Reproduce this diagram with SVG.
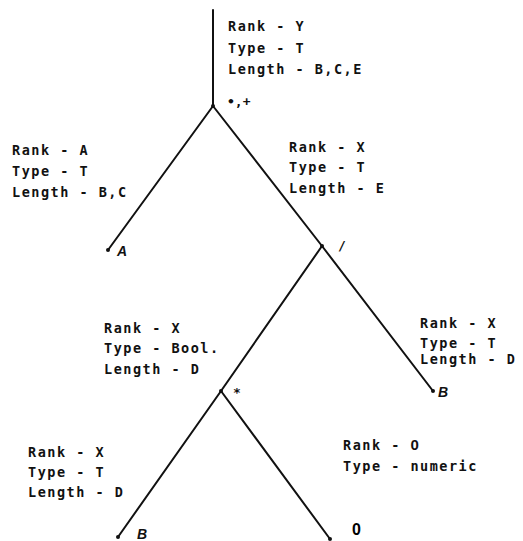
<svg xmlns="http://www.w3.org/2000/svg" width="523" height="541" viewBox="0 0 523 541">
<style>
.t{font-family:"DejaVu Sans Mono","Liberation Mono",monospace;font-weight:bold;font-size:13.5px;letter-spacing:1.5px;fill:#111}
.l{font-family:"Liberation Sans",Arial,sans-serif;font-weight:bold;font-style:italic;font-size:14px;fill:#111}
.o{font-family:"DejaVu Sans Mono","Liberation Mono",monospace;font-weight:bold;font-size:13px;fill:#111}
.z{font-family:"Liberation Sans",Arial,sans-serif;font-weight:bold;font-size:15px}
.e{stroke:#111;stroke-width:2;fill:none;stroke-linecap:round}
.d{fill:#111}
</style>
<rect width="523" height="541" fill="#fff"/>
<g id="connectors">
<line class="e" x1="213" y1="10" x2="213" y2="106"/>
<line class="e" x1="213" y1="106" x2="108" y2="250"/>
<line class="e" x1="213" y1="106" x2="322" y2="246"/>
<line class="e" x1="322" y1="246" x2="221" y2="391"/>
<line class="e" x1="322" y1="246" x2="433" y2="391"/>
<line class="e" x1="221" y1="391" x2="118" y2="537"/>
<line class="e" x1="221" y1="391" x2="330" y2="539"/>
</g>
<g id="root">
<circle class="d" cx="213" cy="106" r="2"/>
<text class="t" x="228" y="31">Rank - Y</text>
<text class="t" x="228" y="53">Type - T</text>
<text class="t" x="228" y="74">Length - B,C,E</text>
<text class="o" x="227" y="106">•,+</text>
</g>
<g id="leafA">
<circle class="d" cx="108" cy="250" r="2"/>
<text class="l" x="117" y="256">A</text>
<text class="t" x="12" y="155">Rank - A</text>
<text class="t" x="12" y="176">Type - T</text>
<text class="t" x="12" y="197">Length - B,C</text>
</g>
<g id="div">
<circle class="d" cx="322" cy="246" r="2"/>
<text class="o" x="338" y="250">/</text>
<text class="t" x="289" y="152">Rank - X</text>
<text class="t" x="289" y="172">Type - T</text>
<text class="t" x="289" y="193">Length - E</text>
</g>
<g id="leafB1">
<circle class="d" cx="433" cy="391" r="2"/>
<text class="l" x="438" y="397">B</text>
<text class="t" x="420" y="328">Rank - X</text>
<text class="t" x="420" y="348">Type - T</text>
<text class="t" x="420" y="364">Length - D</text>
</g>
<g id="mul">
<circle class="d" cx="221" cy="391" r="2"/>
<text class="o" x="233" y="397">*</text>
<text class="t" x="104" y="333">Rank - X</text>
<text class="t" x="104" y="353">Type - Bool.</text>
<text class="t" x="104" y="374">Length - D</text>
</g>
<g id="leafB2">
<circle class="d" cx="118" cy="537" r="2"/>
<text class="l" x="137" y="539" font-size="13">B</text>
<text class="t" x="28" y="457">Rank - X</text>
<text class="t" x="28" y="477">Type - T</text>
<text class="t" x="28" y="497">Length - D</text>
</g>
<g id="leaf0">
<circle class="d" cx="330" cy="539" r="2"/>
<text class="z" x="352" y="535" style="font-size:16px">0</text>
<text class="t" x="343" y="450">Rank - <tspan class="z">0</tspan></text>
<text class="t" x="343" y="471">Type - numeric</text>
</g>
</svg>
